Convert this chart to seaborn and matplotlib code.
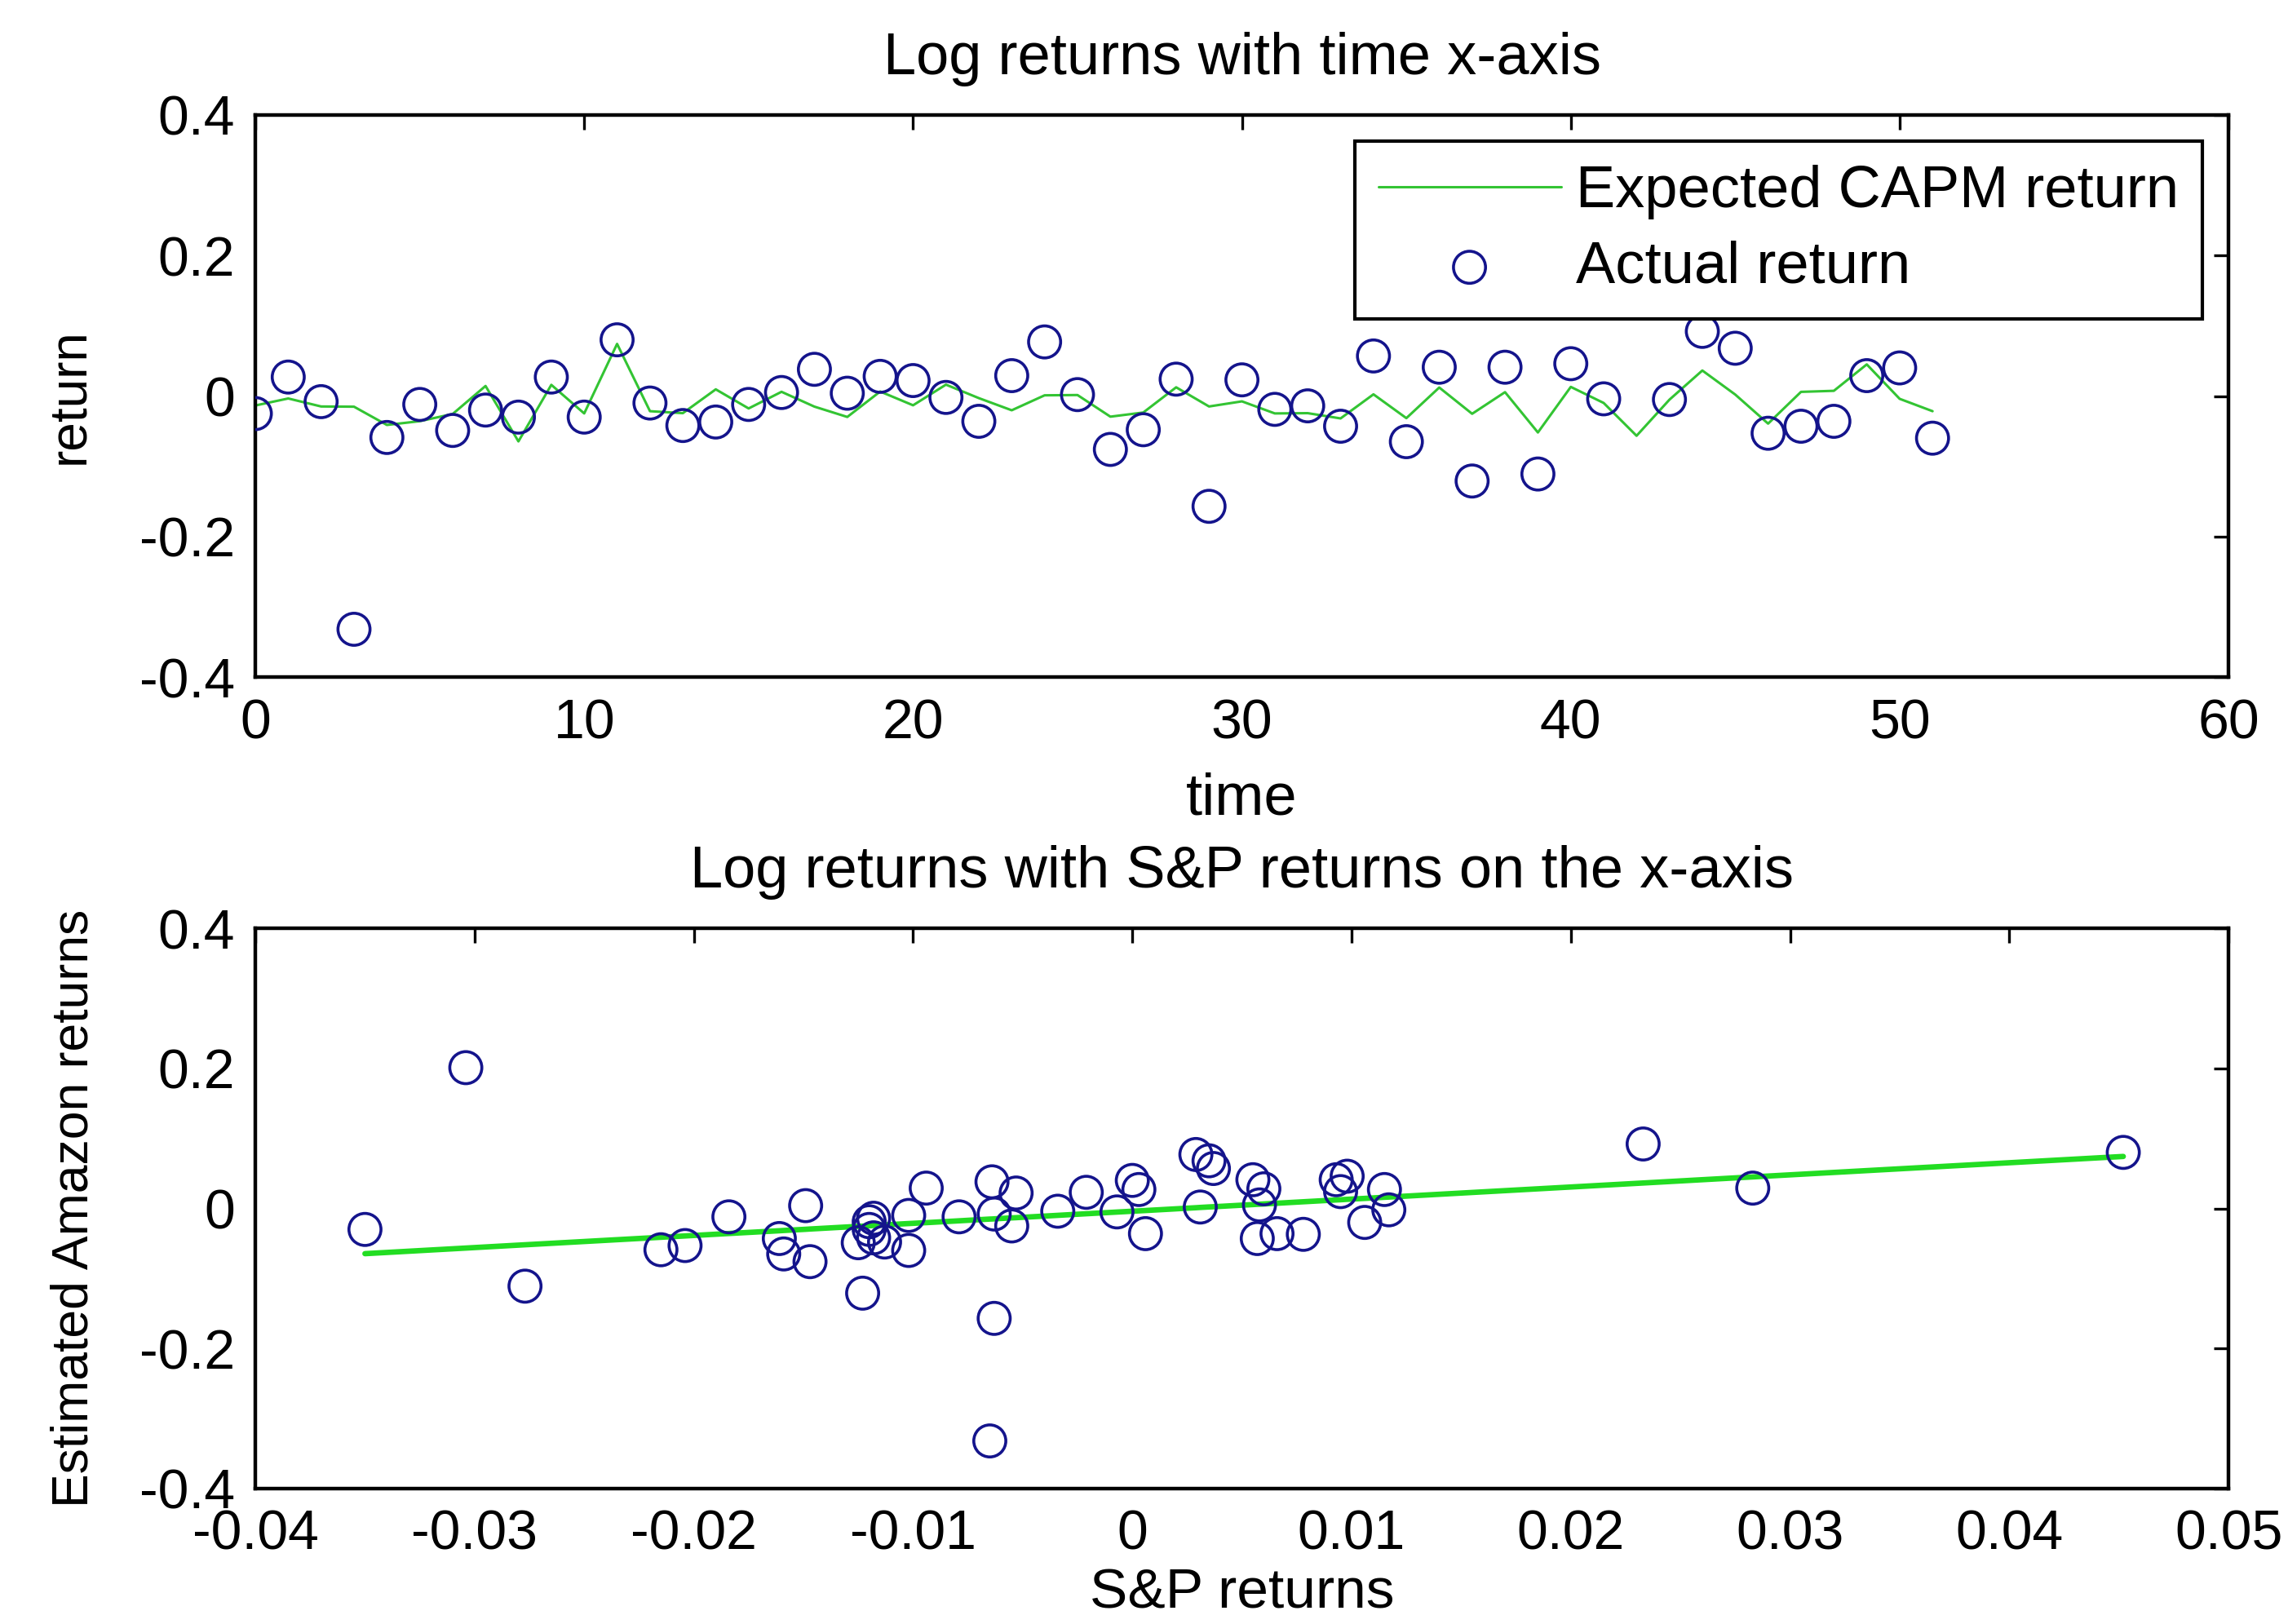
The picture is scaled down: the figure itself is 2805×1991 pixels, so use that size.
import numpy as np
import pandas as pd
import matplotlib
matplotlib.use("Agg")
import matplotlib.pyplot as plt
import seaborn as sns
from matplotlib.ticker import FixedLocator, FixedFormatter

# weekly log returns
time = list(range(52))
actual_return = [
    -0.025, 0.027, -0.008, -0.332, -0.059, -0.012, -0.049, -0.020, -0.030, 0.027,
    -0.030, 0.080, -0.010, -0.042, -0.037, -0.012, 0.005, 0.038, 0.004, 0.028,
    0.022, -0.002, -0.036, 0.029, 0.077, 0.002, -0.076, -0.048, 0.024, -0.157,
    0.023, -0.019, -0.014, -0.043, 0.057, -0.065, 0.041, -0.121, 0.041, -0.111,
    0.046, -0.004, 0.201, -0.005, 0.092, 0.068, -0.053, -0.043, -0.036, 0.029,
    0.040, -0.060]
sp_return = [
    -0.0055, 0.0003, -0.0063, -0.0065, -0.0215, -0.0184, -0.0125, 0.0106, -0.0350, 0.0115,
    -0.0120, 0.0452, -0.0102, -0.0118, 0.0078, -0.0079, 0.0058, -0.0064, -0.0149, 0.0060,
    -0.0053, 0.0117, 0.0006, -0.0094, 0.0029, 0.0031, -0.0147, -0.0113, 0.0095, -0.0063,
    -0.0021, -0.0120, -0.0118, -0.0161, 0.0037, -0.0159, 0.0093, -0.0123, 0.0055, -0.0277,
    0.0098, -0.0034, -0.0304, -0.0007, 0.0233, 0.0035, -0.0204, 0.0057, 0.0066, 0.0283,
    0.0000, -0.0102]
expected_return = [
    -0.0135, -0.0035, -0.0149, -0.0152, -0.0412, -0.0358, -0.0256, 0.0143, -0.0646, 0.0159,
    -0.0248, 0.0742, -0.0216, -0.0244, 0.0095, -0.0177, 0.0060, -0.0151, -0.0298, 0.0064,
    -0.0132, 0.0162, -0.0030, -0.0203, 0.0010, 0.0014, -0.0294, -0.0235, 0.0124, -0.0149,
    -0.0076, -0.0248, -0.0244, -0.0319, 0.0024, -0.0315, 0.0121, -0.0253, 0.0055, -0.0519,
    0.0130, -0.0099, -0.0566, -0.0052, 0.0363, 0.0021, -0.0393, 0.0059, 0.0074, 0.0450,
    -0.0040, -0.0216]

time_ticks = [0, 10, 20, 30, 40, 50, 60]
time_tick_labels = ['0', '10', '20', '30', '40', '50', '60']
return_ticks = [-0.4, -0.2, 0, 0.2, 0.4]
return_tick_labels = ['-0.4', '-0.2', '0', '0.2', '0.4']
sp_ticks = [-0.04, -0.03, -0.02, -0.01, 0, 0.01, 0.02, 0.03, 0.04, 0.05]
sp_tick_labels = ['-0.04', '-0.03', '-0.02', '-0.01', '0', '0.01', '0.02', '0.03', '0.04', '0.05']

df = pd.DataFrame({'time': time, 'actual': actual_return,
                   'expected': expected_return, 'sp': sp_return})

sns.set_theme(style="white")
plt.rcParams['font.family'] = ['Liberation Sans', 'DejaVu Sans']
for key in ['text.color', 'axes.labelcolor', 'xtick.color', 'ytick.color', 'axes.edgecolor']:
    plt.rcParams[key] = 'black'

green = '#33c433'
blue = '#14148c'

fig = plt.figure(figsize=(14.025, 9.955), dpi=200)
ax1 = fig.add_axes([0.1116, 0.5831, 0.8624, 0.3461])
ax2 = fig.add_axes([0.1116, 0.0834, 0.8624, 0.3450])

# top: returns over time
sns.lineplot(data=df, x='time', y='expected', ax=ax1, color=green, lw=1.1,
             estimator=None, label='Expected CAPM return')
sns.scatterplot(data=df, x='time', y='actual', ax=ax1, marker='o', s=200,
                facecolor='none', edgecolor=blue, linewidth=1.3,
                label='Actual return', zorder=3)

# bottom: returns against the S&P
sns.lineplot(data=df, x='sp', y='expected', ax=ax2, color='#22dd22', lw=2.4,
             estimator=None, sort=True)
sns.scatterplot(data=df, x='sp', y='actual', ax=ax2, marker='o', s=200,
                facecolor='none', edgecolor=blue, linewidth=1.3, zorder=3)

for ax, xt, xl, xlim in [(ax1, time_ticks, time_tick_labels, (0, 60)),
                         (ax2, sp_ticks, sp_tick_labels, (-0.04, 0.05))]:
    ax.set_xlim(*xlim)
    ax.set_ylim(-0.4, 0.4)
    ax.xaxis.set_major_locator(FixedLocator(xt))
    ax.xaxis.set_major_formatter(FixedFormatter(xl))
    ax.yaxis.set_major_locator(FixedLocator(return_ticks))
    ax.yaxis.set_major_formatter(FixedFormatter(return_tick_labels))
    ax.tick_params(direction='in', length=6.5, width=1.2, top=True, right=True,
                   labelsize=24.5, pad=9)
    for sp in ax.spines.values():
        sp.set_linewidth(1.6)
        sp.set_color('black')

ax1.set_title('Log returns with time x-axis', fontsize=26, pad=18)
ax1.set_xlabel('time', fontsize=26, labelpad=10)
ax1.set_ylabel('return', fontsize=23, labelpad=20)

ax2.set_title('Log returns with S&P returns on the x-axis', fontsize=26, pad=18)
ax2.set_xlabel('S&P returns', fontsize=25)
ax2.xaxis.label.set_verticalalignment('bottom')
ax2.xaxis.set_label_coords(0.5, -(1986 - 1825) / 687.0)
ax2.set_ylabel('Estimated Amazon returns', fontsize=22.5, labelpad=18)
if ax2.get_legend() is not None:
    ax2.get_legend().remove()

leg = ax1.legend(loc='upper right', fontsize=26, frameon=True, fancybox=False,
                 framealpha=1, edgecolor='black', handlelength=3.1,
                 handletextpad=0.25, borderpad=0.4, labelspacing=0.35,
                 borderaxespad=0.45, scatterpoints=1)
leg.get_frame().set_linewidth(1.5)

plt.savefig("out.png", dpi=200)
